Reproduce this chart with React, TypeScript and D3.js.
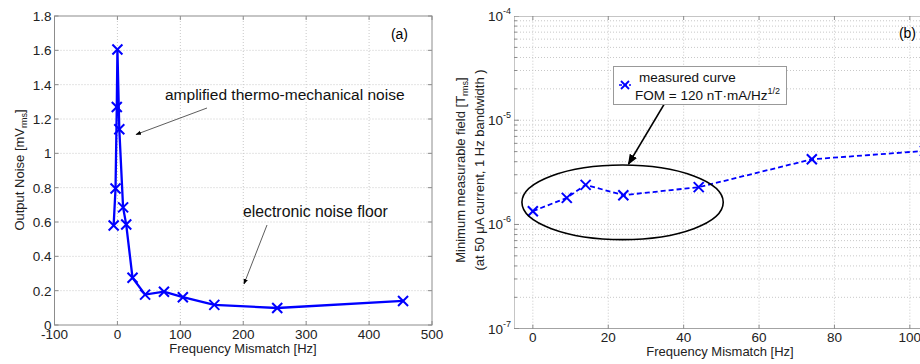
import React from "react";
import * as d3 from "d3";

// Panel (a)
const mismatchA = [-6, -3, -1, 0, 3, 9, 14, 24, 44, 74, 104, 154, 254, 454];
const noiseA = [0.58, 0.795, 1.27, 1.605, 1.14, 0.685, 0.585, 0.275, 0.177, 0.194, 0.162, 0.117, 0.099, 0.14];
const xTicksA = [-100, 0, 100, 200, 300, 400, 500];
const yTicksA = [0, 0.2, 0.4, 0.6, 0.8, 1, 1.2, 1.4, 1.6, 1.8];

// Panel (b)
const mismatchB = [0, 9, 14, 24, 44, 74, 104];
const fieldB = [1.34e-6, 1.8e-6, 2.4e-6, 1.91e-6, 2.28e-6, 4.22e-6, 5.08e-6];
const xTicksB = [0, 20, 40, 60, 80, 100];
const yDecadesB = [-7, -6, -5, -4];

const FONT = "'Liberation Sans', Arial, sans-serif";
const BLUE = "#0000ff";
const GRID = "#c8c8c8";
const AXIS = "#8c8c8c";

function XMark({ x, y, s = 5, w = 2 }: { x: number; y: number; s?: number; w?: number }) {
  return (
    <g stroke={BLUE} strokeWidth={w}>
      <line x1={x - s} y1={y - s} x2={x + s} y2={y + s} />
      <line x1={x - s} y1={y + s} x2={x + s} y2={y - s} />
    </g>
  );
}

export default function App() {
  // ---- Panel a scales
  const ax = d3.scaleLinear().domain([-100, 500]).range([54.5, 432]);
  const ay = d3.scaleLinear().domain([0, 1.8]).range([325, 16]);
  const lineA = d3
    .line<number>()
    .x((d, i) => ax(mismatchA[i]))
    .y((d) => ay(d));

  // ---- Panel b scales
  const bx = d3.scaleLinear().domain([-5, 105]).range([514, 928.7]);
  const by = d3.scaleLog().domain([1e-7, 1e-4]).range([328.7, 16]);
  const lineB = d3
    .line<number>()
    .x((d, i) => bx(mismatchB[i]))
    .y((d) => by(d));

  const minorB: number[] = [];
  for (let e = -7; e < -4; e++) {
    for (let k = 2; k <= 9; k++) minorB.push(k * Math.pow(10, e));
  }

  // ellipse annotation in data units
  const ecx = bx(23.8);
  const ecy = (by(3.72e-6) + by(7.16e-7)) / 2;
  const erx = bx(50.5) - bx(23.8);
  const ery = (by(7.16e-7) - by(3.72e-6)) / 2;

  return (
    <svg width={920} height={364} style={{ position: "absolute", left: 0, top: 0, background: "#fff" }} fontFamily={FONT}>
      <defs>
        <marker id="arr" viewBox="0 0 10 10" refX="9" refY="5" markerWidth="7" markerHeight="7" orient="auto-start-reverse">
          <path d="M0,1 L10,5 L0,9 z" fill="#000" />
        </marker>
        <clipPath id="clipB">
          <rect x={514} y={16} width={420} height={313} />
        </clipPath>
      </defs>
      <rect width={920} height={364} fill="#fff" />

      {/* ===== Panel (a) ===== */}
      <g>
        {xTicksA.slice(1, -1).map((t) => (
          <line key={"gx" + t} x1={ax(t)} x2={ax(t)} y1={ay(0)} y2={ay(1.8)} stroke={GRID} strokeDasharray="1,2" />
        ))}
        {yTicksA.slice(1, -1).map((t) => (
          <line key={"gy" + t} x1={ax(-100)} x2={ax(500)} y1={ay(t)} y2={ay(t)} stroke={GRID} strokeDasharray="1,2" />
        ))}
        <rect x={ax(-100)} y={ay(1.8)} width={ax(500) - ax(-100)} height={ay(0) - ay(1.8)} fill="none" stroke={AXIS} strokeWidth={1} />
        {xTicksA.map((t) => (
          <g key={"tx" + t}>
            <line x1={ax(t)} x2={ax(t)} y1={ay(0)} y2={ay(0) - 4} stroke={AXIS} />
            <line x1={ax(t)} x2={ax(t)} y1={ay(1.8)} y2={ay(1.8) + 4} stroke={AXIS} />
            <text x={ax(t)} y={ay(0) + 13.5} fontSize={13.5} textAnchor="middle" fill="#222">{t}</text>
          </g>
        ))}
        {yTicksA.map((t) => (
          <g key={"ty" + t}>
            <line x1={ax(-100)} x2={ax(-100) + 4} y1={ay(t)} y2={ay(t)} stroke={AXIS} />
            <line x1={ax(500)} x2={ax(500) - 4} y1={ay(t)} y2={ay(t)} stroke={AXIS} />
            <text x={ax(-100) - 3} y={ay(t) + 5} fontSize={13.5} textAnchor="end" fill="#222">{d3.format("~g")(t)}</text>
          </g>
        ))}
        <path d={lineA(noiseA) || ""} fill="none" stroke={BLUE} strokeWidth={2.3} />
        {noiseA.map((v, i) => (
          <XMark key={"ma" + i} x={ax(mismatchA[i])} y={ay(v)} />
        ))}
        <text x={243} y={352.5} fontSize={13} textAnchor="middle" fill="#222">Frequency Mismatch [Hz]</text>
        <text transform="translate(24,170) rotate(-90)" fontSize={13} textAnchor="middle" fill="#222">
          Output Noise [mV<tspan fontSize={9} dy={3}>rms</tspan><tspan dy={-3}>]</tspan>
        </text>
        <text x={408} y={39} fontSize={14} textAnchor="end" fill="#000">(a)</text>
        <text x={165} y={100} fontSize={15.5} fill="#111">amplified thermo-mechanical noise</text>
        <line x1={207} y1={108} x2={136} y2={134.5} stroke="#333" strokeWidth={0.8} markerEnd="url(#arr)" />
        <text x={243} y={217} fontSize={15.8} fill="#111">electronic noise floor</text>
        <line x1={267} y1={225} x2={244} y2={284} stroke="#333" strokeWidth={0.8} markerEnd="url(#arr)" />
      </g>

      {/* ===== Panel (b) ===== */}
      <g>
        <g clipPath="url(#clipB)">
          {xTicksB.map((t) => (
            <line key={"bgx" + t} x1={bx(t)} x2={bx(t)} y1={by(1e-7)} y2={by(1e-4)} stroke={GRID} strokeDasharray="1,2" />
          ))}
          {minorB.map((t, i) => (
            <line key={"bgm" + i} x1={bx(-5)} x2={bx(105)} y1={by(t)} y2={by(t)} stroke={GRID} strokeDasharray="1,2" />
          ))}
          {yDecadesB.slice(1, -1).map((e) => (
            <line key={"bgd" + e} x1={bx(-5)} x2={bx(105)} y1={by(Math.pow(10, e))} y2={by(Math.pow(10, e))} stroke={GRID} strokeDasharray="1,2" />
          ))}
          <rect x={bx(-5)} y={by(1e-4)} width={bx(105) - bx(-5)} height={by(1e-7) - by(1e-4)} fill="none" stroke={AXIS} />
          {xTicksB.map((t) => (
            <g key={"btx" + t}>
              <line x1={bx(t)} x2={bx(t)} y1={by(1e-7)} y2={by(1e-7) - 4} stroke={AXIS} />
              <line x1={bx(t)} x2={bx(t)} y1={by(1e-4)} y2={by(1e-4) + 4} stroke={AXIS} />
            </g>
          ))}
          {minorB.map((t, i) => (
            <line key={"bmt" + i} x1={bx(-5)} x2={bx(-5) + 3} y1={by(t)} y2={by(t)} stroke={AXIS} />
          ))}
          {yDecadesB.map((e) => (
            <line key={"bdt" + e} x1={bx(-5)} x2={bx(-5) + 5} y1={by(Math.pow(10, e))} y2={by(Math.pow(10, e))} stroke={AXIS} />
          ))}
          <path d={lineB(fieldB) || ""} fill="none" stroke={BLUE} strokeWidth={1.8} strokeDasharray="5,3" />
          {fieldB.map((v, i) => (
            <XMark key={"mb" + i} x={bx(mismatchB[i])} y={by(v)} />
          ))}
          <ellipse cx={ecx} cy={ecy} rx={erx} ry={ery} fill="none" stroke="#000" strokeWidth={1.6} />
          <text x={916} y={38} fontSize={14} textAnchor="end" fill="#000">(b)</text>
        </g>
        {xTicksB.map((t) => (
          <text key={"btl" + t} x={bx(t)} y={by(1e-7) + 13} fontSize={13.5} textAnchor="middle" fill="#222">{t}</text>
        ))}
        {yDecadesB.map((e) => (
          <text key={"byl" + e} x={bx(-5) - 3} y={by(Math.pow(10, e)) + 5} fontSize={13.5} textAnchor="end" fill="#222">
            10<tspan fontSize={9} dy={-7}>{e}</tspan>
          </text>
        ))}
        <text x={720} y={355.5} fontSize={13} textAnchor="middle" fill="#222">Frequency Mismatch [Hz]</text>
        <text transform="translate(465,170) rotate(-90)" fontSize={13} textAnchor="middle" fill="#222">
          Minimum measurable field [T<tspan fontSize={9} dy={3}>rms</tspan><tspan dy={-3}>]</tspan>
        </text>
        <text transform="translate(484,170) rotate(-90)" fontSize={13} textAnchor="middle" fill="#222">
          (at 50 μA current, 1 Hz bandwidth )
        </text>

        {/* annotation box */}
        <line x1={664} y1={104.5} x2={628.5} y2={164} stroke="#000" strokeWidth={1.5} markerEnd="url(#arr)" />
        <rect x={613.5} y={66.5} width={173} height={38} fill="#fff" stroke="#999" strokeWidth={1} />
        <line x1={619} y1={85} x2={631} y2={85} stroke={BLUE} strokeWidth={1.5} strokeDasharray="3,2" />
        <XMark x={625} y={85} s={4} w={1.8} />
        <text x={639} y={82} fontSize={13.5} fill="#111">measured curve</text>
        <text x={635} y={100} fontSize={13.5} fill="#111">
          FOM = 120 nT·mA/Hz<tspan fontSize={9} dy={-6}>1/2</tspan>
        </text>
      </g>
    </svg>
  );
}
